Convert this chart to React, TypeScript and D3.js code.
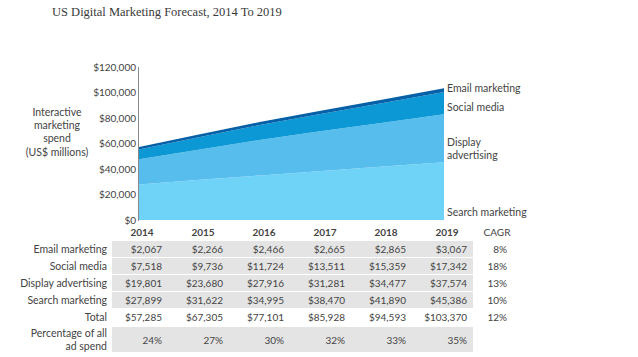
import React from "react";
import * as d3 from "d3";

const years = [2014, 2015, 2016, 2017, 2018, 2019];
const emailMarketing = [2067, 2266, 2466, 2665, 2865, 3067];
const socialMedia = [7518, 9736, 11724, 13511, 15359, 17342];
const displayAdvertising = [19801, 23680, 27916, 31281, 34477, 37574];
const searchMarketing = [27899, 31622, 34995, 38470, 41890, 45386];
const totals = [57285, 67305, 77101, 85928, 94593, 103370];
const pctOfAdSpend = [24, 27, 30, 32, 33, 35];
const cagr = [8, 18, 13, 10, 12];
const yTicks = [0, 20000, 40000, 60000, 80000, 100000, 120000];
const seriesNames = ["Search marketing", "Display advertising", "Social media", "Email marketing"];
const seriesColors = ["#6fd3f8", "#56bdec", "#0b98d5", "#0660a8"];

const FONT = "Lato, 'Open Sans', sans-serif";
const TXT = "#444";

export default function App() {
  const W = 638, H = 357;
  const x = d3.scaleLinear().domain([2014, 2019]).range([139, 444]);
  const y = d3.scaleLinear().domain([0, 120000]).range([220, 67]);

  const rows = years.map((yr, i) => ({
    year: yr,
    search: searchMarketing[i],
    display: displayAdvertising[i],
    social: socialMedia[i],
    email: emailMarketing[i],
  }));
  const stack = d3.stack<any>().keys(["search", "display", "social", "email"]);
  const layers = stack(rows);
  const area = d3
    .area<any>()
    .x((d) => x(d.data.year))
    .y0((d) => y(d[0]))
    .y1((d) => y(d[1]));

  const fmt = d3.format("$,");
  const colRight = (yr: number) => x(yr) + 23;

  const tableRows = [
    { label: "Email marketing", values: emailMarketing.map(fmt), cagr: cagr[0], cy: 249, bg: [241, 257] },
    { label: "Social media", values: socialMedia.map(fmt), cagr: cagr[1], cy: 266, bg: [258, 274] },
    { label: "Display advertising", values: displayAdvertising.map(fmt), cagr: cagr[2], cy: 283, bg: [275, 291] },
    { label: "Search marketing", values: searchMarketing.map(fmt), cagr: cagr[3], cy: 300, bg: [292, 308] },
    { label: "Total", values: totals.map(fmt), cagr: cagr[4], cy: 317, bg: null },
  ];

  return (
    <svg width={W} height={H} style={{ position: "absolute", left: 0, top: 0, background: "#fff" }}>
      <text x={52} y={16} fontFamily="'Liberation Serif', serif" fontSize={12.5} fill="#3a3a3a">
        US Digital Marketing Forecast, 2014 To 2019
      </text>

      {/* areas */}
      {layers.map((layer, i) => (
        <path key={i} d={area(layer) as string} fill={seriesColors[i]} />
      ))}

      {/* axis */}
      <line x1={138.5} x2={138.5} y1={67} y2={221} stroke="#8a8a8a" strokeWidth={1} />
      {yTicks.map((t) => (
        <text key={t} x={136} y={y(t)} dy="0.35em" textAnchor="end" fontFamily={FONT} fontSize={10} fill={TXT}>
          {fmt(t)}
        </text>
      ))}
      {["Interactive", "marketing", "spend", "(US$ millions)"].map((s, i) => (
        <text key={s} x={57} y={112 + i * 13.3} dy="0.35em" textAnchor="middle" fontFamily={FONT} fontSize={10.5} fill={TXT}>
          {s}
        </text>
      ))}

      {/* series labels */}
      <text x={447} y={88} dy="0.35em" fontFamily={FONT} fontSize={10.5} fill={TXT}>
        {seriesNames[3]}
      </text>
      <text x={447} y={107} dy="0.35em" fontFamily={FONT} fontSize={10.5} fill={TXT}>
        {seriesNames[2]}
      </text>
      <text x={447} y={142} dy="0.35em" fontFamily={FONT} fontSize={10.5} fill={TXT}>
        Display
      </text>
      <text x={447} y={155} dy="0.35em" fontFamily={FONT} fontSize={10.5} fill={TXT}>
        advertising
      </text>
      <text x={447} y={212} dy="0.35em" fontFamily={FONT} fontSize={10.5} fill={TXT}>
        {seriesNames[0]}
      </text>

      {/* year labels / table header */}
      {years.map((yr) => (
        <text key={yr} x={x(yr) + 3} y={232} dy="0.35em" textAnchor="middle" fontFamily={FONT} fontSize={10} fontWeight={700} fill={TXT}>
          {yr}
        </text>
      ))}
      <text x={497} y={232} dy="0.35em" textAnchor="middle" fontFamily={FONT} fontSize={10} fill={TXT}>
        CAGR
      </text>

      {/* table */}
      {tableRows.map((r) => (
        <g key={r.label}>
          {r.bg && <rect x={112} y={r.bg[0]} width={361} height={r.bg[1] - r.bg[0]} fill="#e4e4e4" />}
          <text x={107} y={r.cy} dy="0.35em" textAnchor="end" fontFamily={FONT} fontSize={10.5} fill={TXT}>
            {r.label}
          </text>
          {r.values.map((v, i) => (
            <text key={i} x={colRight(years[i])} y={r.cy} dy="0.35em" textAnchor="end" fontFamily={FONT} fontSize={10} fill={TXT}>
              {v}
            </text>
          ))}
          <text x={507} y={r.cy} dy="0.35em" textAnchor="end" fontFamily={FONT} fontSize={10} fill={TXT}>
            {r.cagr}%
          </text>
        </g>
      ))}
      <rect x={112} y={327} width={361} height={25} fill="#e4e4e4" />
      <text x={107} y={333} dy="0.35em" textAnchor="end" fontFamily={FONT} fontSize={10.5} fill={TXT}>
        Percentage of all
      </text>
      <text x={107} y={346} dy="0.35em" textAnchor="end" fontFamily={FONT} fontSize={10.5} fill={TXT}>
        ad spend
      </text>
      {pctOfAdSpend.map((p, i) => (
        <text key={i} x={colRight(years[i])} y={340} dy="0.35em" textAnchor="end" fontFamily={FONT} fontSize={10} fill={TXT}>
          {p}%
        </text>
      ))}
    </svg>
  );
}
